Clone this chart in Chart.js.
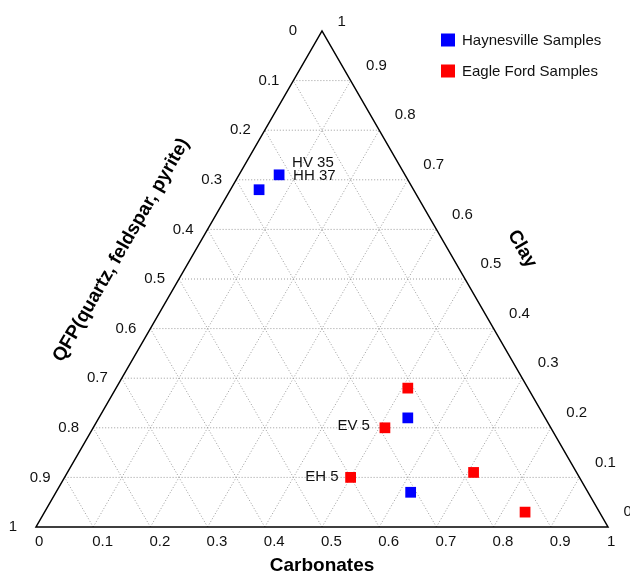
<!DOCTYPE html>
<html>
<head>
<meta charset="utf-8">
<script src="https://cdn.jsdelivr.net/npm/chart.js@4/dist/chart.umd.min.js"></script>
<style>
  html, body { margin: 0; padding: 0; background: #fff; }
  #wrap { width: 630px; height: 572px; }
</style>
</head>
<body>
<div id="wrap"><canvas id="tern" width="630" height="572"></canvas></div>
<script>
// Ternary composition of shale samples: QFP / Carbonates / Clay (fractions)
const tickValues = [0, 0.1, 0.2, 0.3, 0.4, 0.5, 0.6, 0.7, 0.8, 0.9, 1];
const tickLabels = ['0', '0.1', '0.2', '0.3', '0.4', '0.5', '0.6', '0.7', '0.8', '0.9', '1'];

const seriesNames = ['Haynesville Samples', 'Eagle Ford Samples'];

const haynesvilleQfp   = [0.22, 0.27, 0.24, 0.31];
const haynesvilleCarb  = [0.07, 0.05, 0.54, 0.62];
const haynesvilleClay  = [0.71, 0.68, 0.22, 0.07];
const haynesvilleNames = ['HV 35', 'HH 37', '', ''];

const eagleFordQfp   = [0.21, 0.29, 0.18, 0.40, 0.13];
const eagleFordCarb  = [0.51, 0.51, 0.71, 0.50, 0.84];
const eagleFordClay  = [0.28, 0.20, 0.11, 0.10, 0.03];
const eagleFordNames = ['', 'EV 5', '', 'EH 5', ''];

const axisTitles = { left: 'QFP(quartz, feldspar, pyrite)', right: 'Clay', bottom: 'Carbonates' };

// ternary -> cartesian: bottom-right corner = carbonates, apex = clay
function toXY(qfp, carb, clay) {
  const s = qfp + carb + clay;
  return { x: (carb + clay / 2) / s, y: clay / s };
}
function buildPoints(q, c, k) {
  return q.map((v, i) => toXY(v, c[i], k[i]));
}

// label placement (pixel offsets from the marker)
const nameStyle = {
  'HV 35': { dx: 13, dy: -12, align: 'left' },
  'HH 37': { dx: 34, dy: -14, align: 'left' },
  'EV 5':  { dx: -15, dy: -1.5, align: 'right' },
  'EH 5':  { dx: -12, dy: -1, align: 'right' }
};

const FONT = '"Liberation Sans", Arial, Helvetica, sans-serif';

const ternaryPlugin = {
  id: 'ternary',
  beforeDatasetsDraw(chart) {
    const ctx = chart.ctx;
    const xs = chart.scales.x, ys = chart.scales.y;
    const P = (carb, clay) => ({ x: xs.getPixelForValue(carb + clay / 2), y: ys.getPixelForValue(clay) });
    ctx.save();
    // dotted grid in three directions
    ctx.strokeStyle = '#9c9c9c';
    ctx.lineWidth = 1;
    ctx.setLineDash([1, 2]);
    tickValues.slice(1, -1).forEach(v => {
      const segs = [
        [P(0, v), P(1 - v, v)],          // constant clay
        [P(v, 0), P(v, 1 - v)],          // constant carbonates
        [P(1 - v, 0), P(0, 1 - v)]       // constant QFP
      ];
      segs.forEach(([a, b]) => {
        ctx.beginPath();
        ctx.moveTo(a.x, a.y);
        ctx.lineTo(b.x, b.y);
        ctx.stroke();
      });
    });
    // outline
    ctx.setLineDash([]);
    ctx.strokeStyle = '#000';
    ctx.lineWidth = 1.5;
    const A = P(0, 0), B = P(1, 0), C = P(0, 1);
    ctx.beginPath();
    ctx.moveTo(A.x, A.y); ctx.lineTo(B.x, B.y); ctx.lineTo(C.x, C.y); ctx.closePath();
    ctx.stroke();
    ctx.restore();
  },
  afterDatasetsDraw(chart) {
    const ctx = chart.ctx;
    const xs = chart.scales.x, ys = chart.scales.y;
    const P = (carb, clay) => ({ x: xs.getPixelForValue(carb + clay / 2), y: ys.getPixelForValue(clay) });
    ctx.save();
    ctx.fillStyle = '#111';
    ctx.font = '15px ' + FONT;
    ctx.textBaseline = 'middle';

    // bottom axis: carbonates
    ctx.textAlign = 'left';
    tickValues.forEach((v, i) => {
      const p = P(v, 0);
      ctx.fillText(tickLabels[i], p.x - 1, p.y + 15);
    });
    // left axis: QFP (0 at apex, 1 at bottom-left)
    ctx.textAlign = 'right';
    tickValues.forEach((v, i) => {
      const p = P(0, 1 - v);
      const off = tickLabels[i].length === 1 ? (v === 0 ? 25 : 19) : 14;
      ctx.fillText(tickLabels[i], p.x - off, p.y);
    });
    // right axis: clay (1 at apex, 0 at bottom-right)
    ctx.textAlign = 'left';
    tickValues.forEach((v, i) => {
      const p = P(1 - v, v);
      const dy = v === 1 ? -9 : -15;
      ctx.fillText(tickLabels[i], p.x + 15.5, p.y + dy);
    });

    // axis titles
    ctx.font = 'bold 19px ' + FONT;
    ctx.textAlign = 'center';
    ctx.fillStyle = '#000';
    const bot = P(0.5, 0);
    ctx.fillText(axisTitles.bottom, bot.x, bot.y + 39);

    const lm = P(0, 0.55);
    ctx.save();
    ctx.translate(lm.x - 72, lm.y - 4);
    ctx.rotate(-Math.PI / 3);
    ctx.fillText(axisTitles.left, 0, 0);
    ctx.restore();

    const rm = P(0.5, 0.5);
    ctx.save();
    ctx.translate(rm.x + 57, rm.y - 30);
    ctx.rotate(Math.PI / 3);
    ctx.fillText(axisTitles.right, 0, 0);
    ctx.restore();

    // sample names next to markers
    ctx.font = '15px ' + FONT;
    ctx.fillStyle = '#111';
    chart.data.datasets.forEach((ds, di) => {
      const meta = chart.getDatasetMeta(di);
      ds.names.forEach((nm, i) => {
        if (!nm) return;
        const el = meta.data[i];
        const st = nameStyle[nm];
        ctx.textAlign = st.align;
        ctx.fillText(nm, el.x + st.dx, el.y + st.dy);
      });
    });

    // legend (top right)
    ctx.textAlign = 'left';
    chart.data.datasets.forEach((ds, di) => {
      const y = 40 + di * 31;
      ctx.fillStyle = ds.backgroundColor;
      ctx.fillRect(441, y - 6.5, 14, 13);
      ctx.fillStyle = '#111';
      ctx.fillText(ds.label, 462, y + 0.5);
    });
    ctx.restore();
  }
};

new Chart(document.getElementById('tern'), {
  type: 'scatter',
  data: {
    datasets: [
      {
        label: seriesNames[0],
        data: buildPoints(haynesvilleQfp, haynesvilleCarb, haynesvilleClay),
        names: haynesvilleNames,
        backgroundColor: '#0000ff',
        borderWidth: 0,
        pointStyle: 'rect',
        pointRadius: 7.6,
        pointHoverRadius: 7.6,
        clip: false
      },
      {
        label: seriesNames[1],
        data: buildPoints(eagleFordQfp, eagleFordCarb, eagleFordClay),
        names: eagleFordNames,
        backgroundColor: '#ff0000',
        borderWidth: 0,
        pointStyle: 'rect',
        pointRadius: 7.6,
        pointHoverRadius: 7.6,
        clip: false
      }
    ]
  },
  options: {
    responsive: false,
    animation: false,
    devicePixelRatio: 1,
    layout: { padding: { left: 36, right: 22, top: 31, bottom: 45 } },
    scales: {
      x: { type: 'linear', min: 0, max: 1, display: false },
      y: { type: 'linear', min: 0, max: 1, display: false }
    },
    plugins: {
      legend: { display: false },
      tooltip: { enabled: false }
    },
    events: []
  },
  plugins: [ternaryPlugin]
});
</script>
</body>
</html>
